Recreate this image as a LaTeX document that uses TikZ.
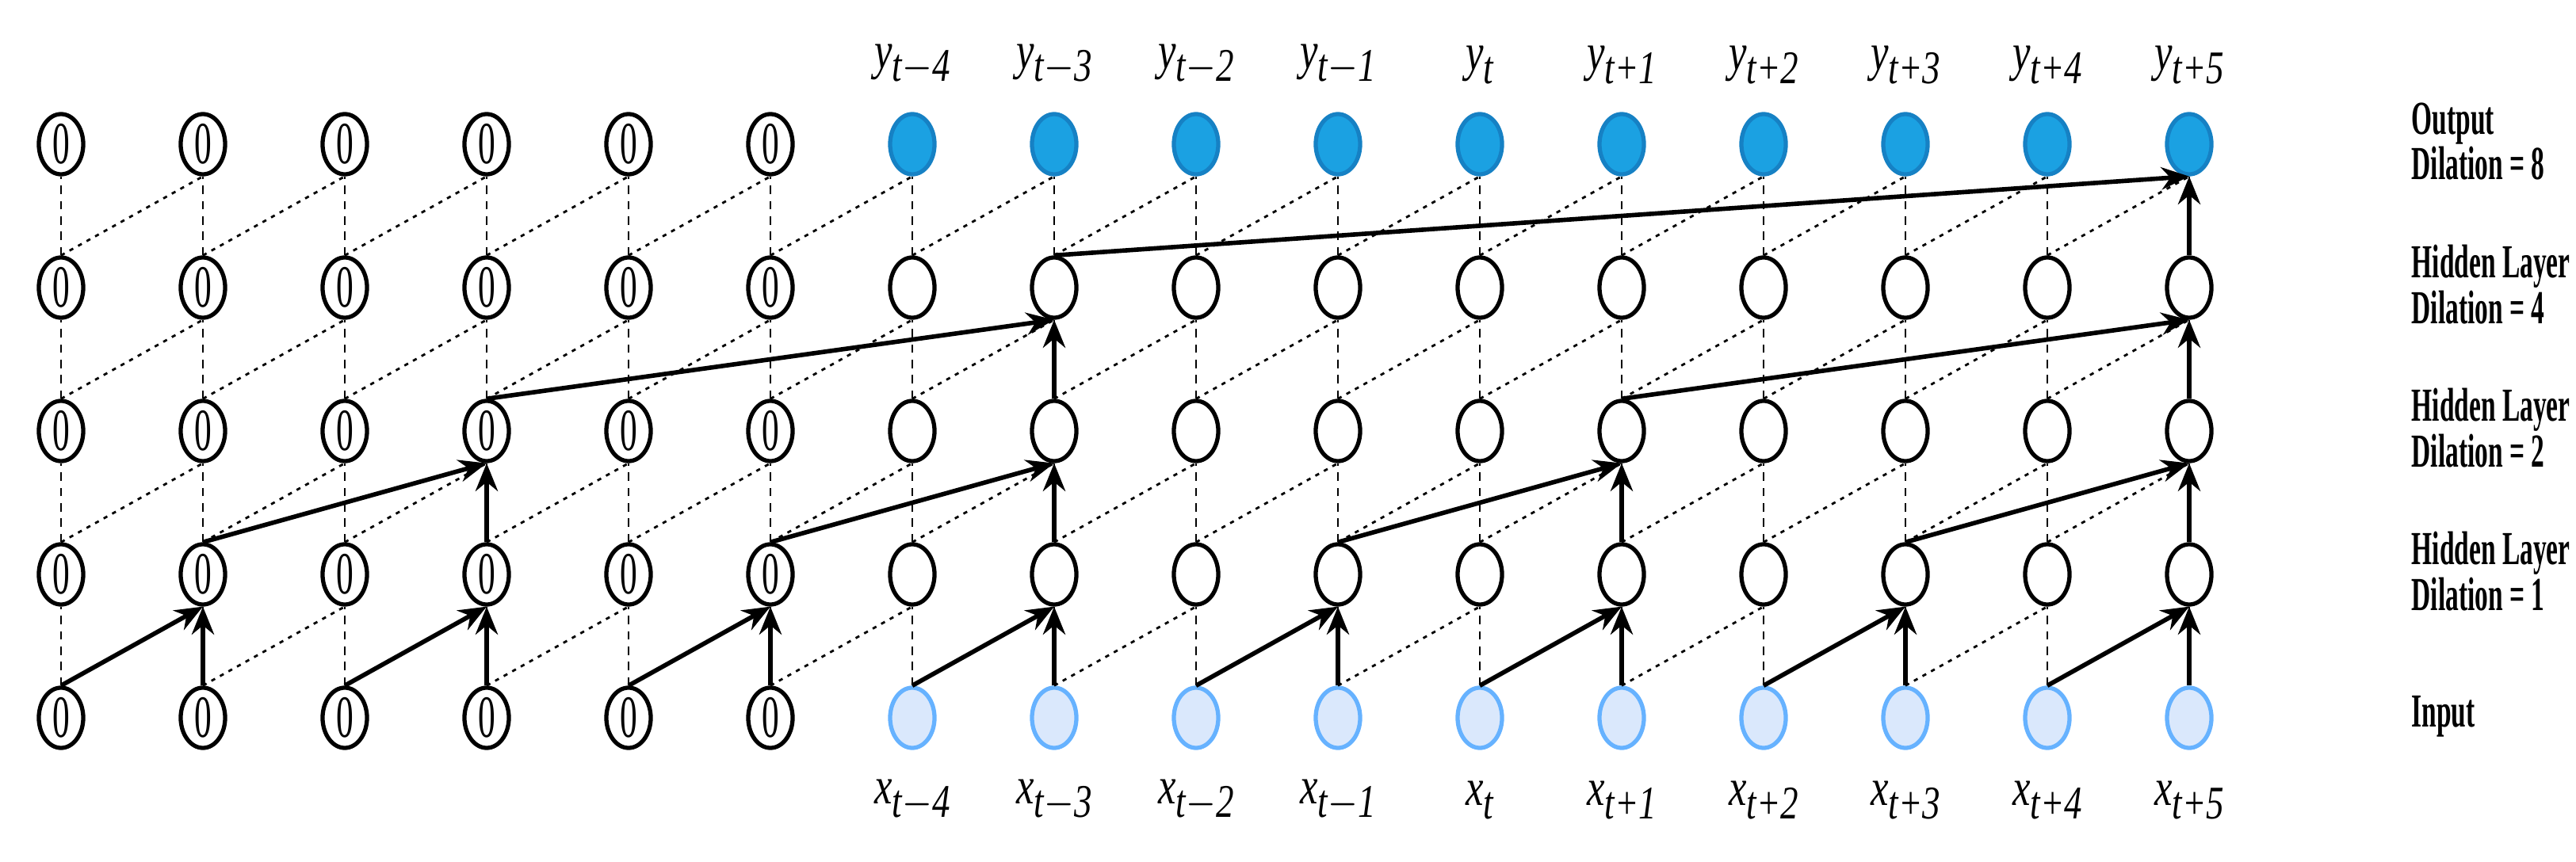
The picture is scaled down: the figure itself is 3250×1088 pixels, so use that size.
\documentclass[tikz,border=0pt]{standalone}
\usepackage{fontspec}
\setmainfont{Liberation Serif}
\usetikzlibrary{arrows.meta,shapes.geometric}
\definecolor{outfill}{HTML}{1BA1E2}
\definecolor{outdraw}{HTML}{1681C4}
\definecolor{infill}{HTML}{DAE8FC}
\definecolor{indraw}{HTML}{66B2FF}
\newcommand{\lbl}[3]{\scalebox{0.8}[1.05]{\fontsize{18}{18}\selectfont\itshape #1\raisebox{-0.55ex}{\fontsize{16}{16}\selectfont #2#3}}}
\newcommand{\rlab}[1]{\scalebox{0.56}[1]{\bfseries\fontsize{17}{16}\selectfont\renewcommand{\arraystretch}{0.95}\begin{tabular}{@{}l@{}}#1\end{tabular}}}
\begin{document}
\begin{tikzpicture}[x=0.01cm,y=-0.01cm,
  nd/.style={ellipse,draw,line width=1.5pt,inner sep=0pt,minimum width=0.56cm,minimum height=0.76cm},
  zero/.style={nd,fill=white},
  hid/.style={nd,fill=white},
  outn/.style={nd,fill=outfill,draw=outdraw},
  inn/.style={nd,fill=infill,draw=indraw},
  vdash/.style={line width=0.7pt,dash pattern=on 3pt off 2.5pt},
  ddot/.style={line width=0.8pt,dash pattern=on 1.5pt off 2pt},
  sol/.style={line width=1.6pt,-{Stealth[length=10pt,width=8pt]}},
  rl/.style={anchor=west,inner sep=0pt}]
\useasboundingbox (0,0) rectangle (3250,1088);
\foreach \r/\y in {0/906,1/725,2/544,3/363,4/182}{
  \foreach \i in {0,...,15}{
    \pgfmathsetmacro{\xx}{77+179*\i}
    \ifnum\i<6
      \node[zero] (n\i-\r) at (\xx,\y) {\scalebox{0.95}[1.65]{\fontsize{13}{13}\selectfont 0}};
    \else
      \ifnum\r=0 \node[inn] (n\i-\r) at (\xx,\y) {};
      \else\ifnum\r=4 \node[outn] (n\i-\r) at (\xx,\y) {};
      \else \node[hid] (n\i-\r) at (\xx,\y) {};
      \fi\fi
    \fi
  }
}
% dashed verticals and dotted diagonals
\foreach \r [evaluate=\r as \rn using int(\r+1)] in {0,...,3}{
  \foreach \i in {0,...,15}{
    \draw[vdash] (n\i-\r) -- (n\i-\rn);
  }
  \foreach \i [evaluate=\i as \j using int(\i+1)] in {0,...,14}{
    \draw[ddot] (n\i-\r.north) -- (n\j-\rn.south);
  }
}
% solid arrows
\foreach \j [evaluate=\j as \k using int(\j-1)] in {1,3,5,7,9,11,13,15}{
  \draw[sol] (n\k-0.north) -- (n\j-1.south);
  \draw[sol] (n\j-0.north) -- (n\j-1.south);
}
\foreach \j [evaluate=\j as \k using int(\j-2)] in {3,7,11,15}{
  \draw[sol] (n\k-1.north) -- (n\j-2.south);
  \draw[sol] (n\j-1.north) -- (n\j-2.south);
}
\foreach \j [evaluate=\j as \k using int(\j-4)] in {7,15}{
  \draw[sol] (n\k-2.north) -- (n\j-3.south);
  \draw[sol] (n\j-2.north) -- (n\j-3.south);
}
\draw[sol] (n7-3.north) -- (n15-4.south);
\draw[sol] (n15-3.north) -- (n15-4.south);
% labels
\foreach \i/\s/\t in {6/{$-$}/4,7/{$-$}/3,8/{$-$}/2,9/{$-$}/1,10/{}/{},11/+/1,12/+/2,13/+/3,14/+/4,15/+/5}{
  \node[inner sep=0pt] (ylab\i) at ([yshift=1.0cm]n\i-4.center) {\lbl{y}{t\s}{\t}};
  \node[inner sep=0pt] (xlab\i) at ([yshift=-1.04cm]n\i-0.center) {\lbl{x}{t\s}{\t}};
}
\node[rl] (lo) at (3042,186) {\rlab{Output\\Dilation = 8}};
\node[rl] (l4) at (3042,367) {\rlab{Hidden Layer\\Dilation = 4}};
\node[rl] (l2) at (3042,548) {\rlab{Hidden Layer\\Dilation = 2}};
\node[rl] (l1) at (3042,729) {\rlab{Hidden Layer\\Dilation = 1}};
\node[rl] (li) at (3042,906) {\rlab{Input}};
\end{tikzpicture}
\end{document}
